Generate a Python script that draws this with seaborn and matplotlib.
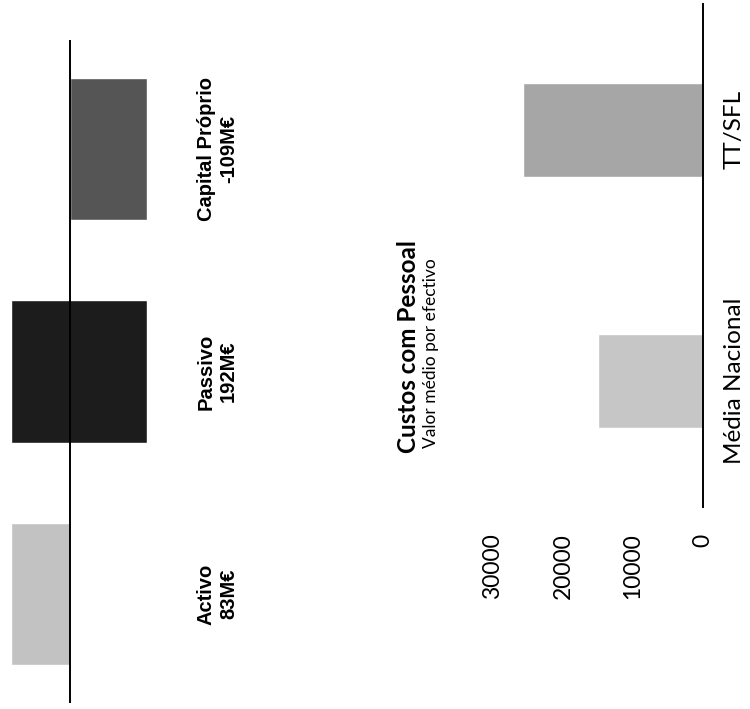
import numpy as np
import pandas as pd
import matplotlib
matplotlib.use("Agg")
import matplotlib.pyplot as plt
import seaborn as sns

# balance chart (scanned page is rotated 90 degrees)
balance_cats = ["Activo", "Passivo", "Capital Próprio"]
balance_values = [83, 192, -109]
balance_labels = ["Activo\n83M€", "Passivo\n192M€", "Capital Próprio\n-109M€"]
balance_colors = ["#c2c2c2", "#1c1c1c", "#555555"]

# personnel costs chart
cost_cats = ["Média Nacional", "TT/SFL"]
cost_values = [15000, 25700]
cost_colors = ["#c6c6c6", "#a6a6a6"]
cost_ticks = [0, 10000, 20000, 30000]

sns.set_style("white")
plt.rcParams["font.family"] = ["Lato", "DejaVu Sans"]
plt.rcParams["text.color"] = "black"
plt.rcParams["xtick.color"] = "black"
plt.rcParams["ytick.color"] = "black"

W, H = 750, 709
fig = plt.figure(figsize=(W / 100, H / 100), dpi=100)


def box(x0, y0, x1, y1):
    # pixel box (top-left origin) -> figure fraction
    return [x0 / W, 1 - y1 / H, (x1 - x0) / W, (y1 - y0) / H]


# ---- balance chart ----
ax1 = fig.add_axes(box(5, 40, 165, 703))
df1 = pd.DataFrame({"cat": balance_cats, "val": balance_values})
base = df1[df1["cat"] != "Passivo"]
sns.barplot(data=base, x="val", y="cat", order=balance_cats, hue="cat",
            hue_order=balance_cats, palette=balance_colors, legend=False,
            orient="h", width=0.64, ax=ax1)
# liabilities bar floats between equity and assets
ax1.barh(1, balance_values[1], left=balance_values[2], height=0.64,
         color=balance_colors[1])
ax1.axvline(0, color="black", lw=1.4, zorder=5)
ax1.set_xlim(65 / 0.705, -95 / 0.705)
ax1.set_ylim(-0.49, 2.49)
ax1.set_xlabel("")
ax1.set_ylabel("")
ax1.set_xticks([])
ax1.yaxis.tick_right()
ax1.set_yticks(range(len(balance_cats)))
ax1.set_yticklabels(balance_labels, rotation=90, ha="left", va="center",
                    multialignment="center", fontweight="bold",
                    fontsize=14.5, family=["Liberation Sans", "DejaVu Sans"])
ax1.tick_params(axis="y", length=0, pad=23, labelcolor="black")
for s in ax1.spines.values():
    s.set_visible(False)

# ---- personnel costs chart ----
ax2 = fig.add_axes(box(470, 4, 703, 507))
df2 = pd.DataFrame({"cat": cost_cats, "val": cost_values})
sns.barplot(data=df2, x="val", y="cat", order=cost_cats, hue="cat",
            hue_order=cost_cats, palette=cost_colors, legend=False,
            orient="h", width=0.375, ax=ax2)
ax2.set_xlim(233 / 0.007, 0)
ax2.set_ylim(-0.5, 1.5)
ax2.set_xlabel("")
ax2.set_ylabel("")
ax2.set_xticks(cost_ticks)
ax2.set_xticklabels([str(t) for t in cost_ticks], rotation=90, ha="center",
                    va="top", fontsize=16.5)
ax2.tick_params(axis="x", length=0, pad=19, labelcolor="black")
ax2.yaxis.tick_right()
ax2.set_yticks(range(len(cost_cats)))
ax2.set_yticklabels(cost_cats, rotation=90, ha="left", va="center",
                    fontsize=17.5)
ax2.tick_params(axis="y", length=0, pad=15, labelcolor="black")
for name, s in ax2.spines.items():
    s.set_visible(name == "right")
ax2.spines["right"].set_color("black")
ax2.spines["right"].set_linewidth(1.4)

fig.text(409 / W, 1 - 453 / H, "Custos com Pessoal", rotation=90,
         ha="center", va="bottom", fontsize=17.5, fontweight="bold")
fig.text(431 / W, 1 - 448 / H, "Valor médio por efectivo", rotation=90,
         ha="center", va="bottom", fontsize=12.5)

fig.savefig("out.png", dpi=100, facecolor="white")
